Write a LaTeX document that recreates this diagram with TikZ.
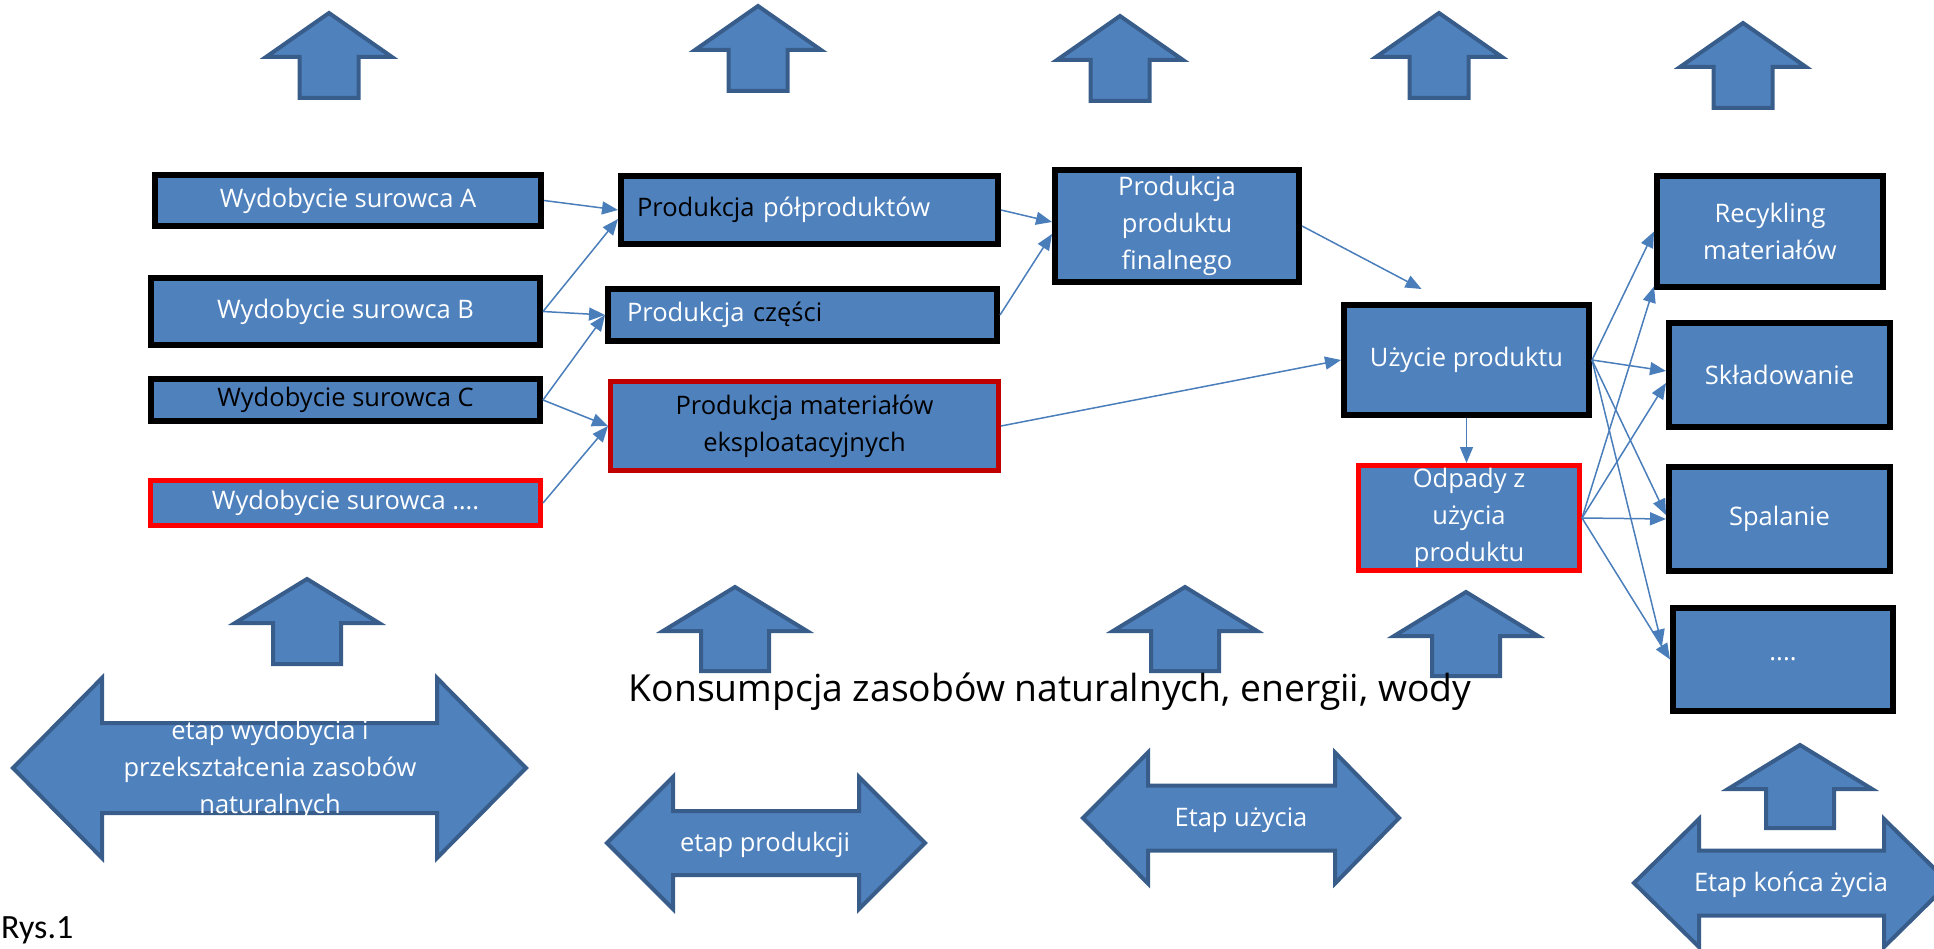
\documentclass[tikz,border=0pt]{standalone}
\usepackage{fontspec}
\setmainfont{Open Sans}
\newfontfamily\rysfont{Carlito}
\usetikzlibrary{arrows.meta,calc}
\definecolor{boxblue}{HTML}{4F81BD}
\definecolor{edgeblue}{HTML}{385D8A}
\definecolor{linkblue}{HTML}{4A7EBB}
\definecolor{darkred}{HTML}{C00000}
\tikzset{
  stage/.style={rectangle, fill=boxblue, draw=black, line width=6pt, text=white,
    align=center, inner sep=0pt, font=\fontsize{25.5}{37}\selectfont},
  redstage/.style={stage, draw=red, line width=5pt},
  link/.style={draw=linkblue, line width=1.5pt, -{Triangle[length=16pt,width=13pt]}},
  blockarrow/.style={fill=boxblue, draw=edgeblue, line width=4pt, line join=miter},
  arrowtext/.style={text=white, align=center, font=\fontsize{25.5}{37}\selectfont},
}

\begin{document}
\begin{tikzpicture}[x=1pt, y=-1pt]
  \useasboundingbox (0,0) rectangle (1934,949);

  \foreach \tx/\ty/\by in {329/13/98, 758/6/91, 1120/16/101, 1439/13/98, 1743/23/108}
    \draw[blockarrow] (\tx,\ty) -- (\tx+63,\ty+44) -- (\tx+29.5,\ty+44) -- (\tx+29.5,\by)
      -- (\tx-29.5,\by) -- (\tx-29.5,\ty+44) -- (\tx-63,\ty+44) -- cycle;
  \foreach \tx/\ty/\by in {307/579/664, 735/587/671, 1185/587/671, 1466/592/676, 1800/745/828}
    \draw[blockarrow] (\tx,\ty) -- (\tx+72,\ty+44) -- (\tx+34,\ty+44) -- (\tx+34,\by)
      -- (\tx-34,\by) -- (\tx-34,\ty+44) -- (\tx-72,\ty+44) -- cycle;
  \foreach \lx/\lh/\rh/\rx/\cy/\hh/\sh in {13/102/437/526/768/90/45, 607/673/859/925/843/66/32,
      1083/1148/1335/1399/818/65.5/32.5, 1634/1699/1884/1949/883/64/32.5}
    \draw[blockarrow] (\lx,\cy) -- (\lh,\cy-\hh) -- (\lh,\cy-\sh) -- (\rh,\cy-\sh) -- (\rh,\cy-\hh)
      -- (\rx,\cy) -- (\rh,\cy+\hh) -- (\rh,\cy+\sh) -- (\lh,\cy+\sh) -- (\lh,\cy+\hh) -- cycle;

  \node[arrowtext] (etapWyd) at (270,770) {etap wydobycia i\\przekształcenia zasobów\\naturalnych};
  \node[arrowtext] (etapProd) at (765,845) {etap produkcji};
  \node[arrowtext] (etapUz) at (1241,820) {Etap użycia};
  \node[arrowtext] (etapKon) at (1791,885) {Etap końca życia};

  \node[font=\fontsize{37.3}{44}\selectfont] (konsumpcja) at (1050,692) {Konsumpcja zasobów naturalnych, energii, wody};
  \node[anchor=base west, inner sep=0pt, font=\rysfont\fontsize{34}{40}\selectfont] (rys) at (1,938) {Rys.1};

  \node[stage, minimum width=386, minimum height=51] (wydA) at (348,200.5) {Wydobycie surowca A};
  \node[stage, minimum width=389, minimum height=67] (wydB) at (345.5,311.5) {Wydobycie surowca B};
  \node[stage, minimum width=389, minimum height=42, text=black] (wydC) at (345.5,400) {Wydobycie surowca C};
  \node[redstage, minimum width=390, minimum height=45] (wydD) at (345.5,503) {Wydobycie surowca ….};

  \node[stage, minimum height=68, text width=345, inner xsep=16, align=left] (polprod) at (809.5,210)
    {\textcolor{black}{Produkcja} półproduktów};
  \node[stage, minimum height=52, text width=351, inner xsep=19, align=left] (czesci) at (802.5,315)
    {Produkcja \textcolor{black}{części}};
  \node[redstage, draw=darkred, minimum width=388, minimum height=89, text=black] (material) at (804.5,426)
    {Produkcja materiałów\\eksploatacyjnych};

  \node[stage, minimum width=244, minimum height=112] (finalny) at (1177,226) {Produkcja\\produktu\\finalnego};
  \node[stage, minimum width=245, minimum height=110] (uzycie) at (1466.5,360) {Użycie produktu};
  \node[redstage, minimum width=221, minimum height=105] (odpady) at (1469,518) {Odpady z\\użycia\\produktu};

  \node[stage, minimum width=226, minimum height=111] (recykling) at (1770,231.5) {Recykling\\materiałów};
  \node[stage, minimum width=221, minimum height=104] (skladowanie) at (1779.5,375) {Składowanie};
  \node[stage, minimum width=221, minimum height=104] (spalanie) at (1779.5,519) {Spalanie};
  \node[stage, minimum width=220, minimum height=103] (inne) at (1783,659.5) {....};

  \coordinate (uzycieIn) at ($(uzycie.north)+(-45,-13)$);

  \draw[link] (wydA.east) -- (polprod.west);
  \draw[link] (wydB.east) -- ($(polprod.west)+(0,9)$);
  \draw[link] (wydB.east) -- (czesci.west);
  \draw[link] (wydC.east) -- (czesci.west);
  \draw[link] (wydC.east) -- (material.west);
  \draw[link] (wydD.east) -- (material.west);
  \draw[link] (polprod.east) -- ($(finalny.west)+(0,-4)$);
  \draw[link] (czesci.east) -- ($(finalny.west)+(0,8)$);
  \draw[link] (finalny.east) -- (uzycieIn);
  \draw[link] (material.east) -- (uzycie.west);
  \draw[link] (uzycie.south) -- (uzycie.south |- odpady.north);
  \draw[link] (uzycie.east) -- (recykling.west);
  \draw[link] (uzycie.east) -- ($(skladowanie.west)+(0,-4)$);
  \draw[link] (uzycie.east) -- ($(spalanie.west)+(0,-4)$);
  \draw[link] (uzycie.east) -- ($(inne.west)+(-8,-14)$);
  \draw[link] (odpady.east) -- ($(recykling.west)+(0,55)$);
  \draw[link] (odpady.east) -- ($(skladowanie.west)+(0,8)$);
  \draw[link] (odpady.east) -- (spalanie.west);
  \draw[link] (odpady.east) -- (inne.west);
\end{tikzpicture}
\end{document}
